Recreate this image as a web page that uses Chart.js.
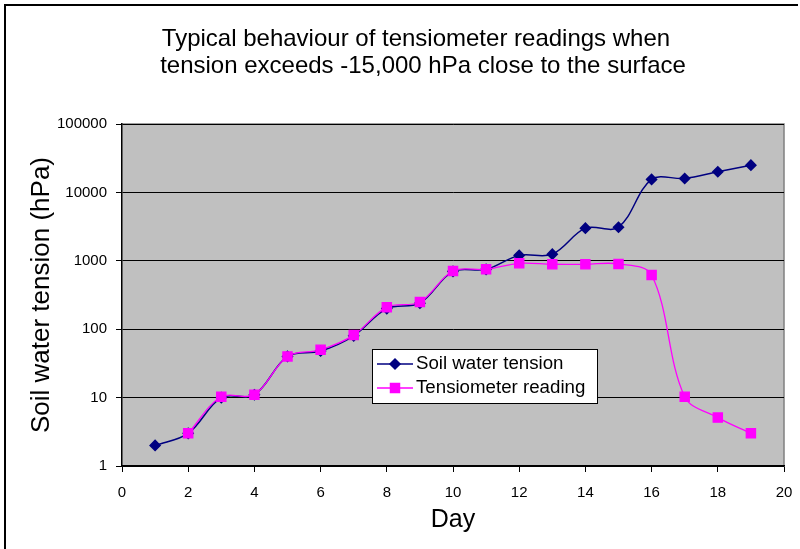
<html><head>
<meta charset="UTF-8">
<title>Tensiometer readings</title>
<script src="https://cdn.jsdelivr.net/npm/chart.js"></script>
<style>
body {
  margin: 0;
  background: #ffffff;
}
#wrap {
  position: relative;
  width: 800px;
  height: 549px;
}
</style>
</head>
<body>

<div id="wrap">
  <canvas id="chart"></canvas>
</div>

<script>
const titleLines = [
  "Typical behaviour of tensiometer readings when",
  "tension exceeds -15,000 hPa close to the surface"
];

const soilDays = [1, 2, 3, 4, 5, 6, 7, 8, 9, 10, 11, 12, 13, 14, 15, 16, 17, 18, 19];
const soilTension = [2, 3, 10, 11, 40, 48, 80, 200, 240, 700, 750, 1200, 1250, 3000, 3100, 15500, 16000, 20000, 25000];

const tensioDays = [2, 3, 4, 5, 6, 7, 8, 9, 10, 11, 12, 13, 14, 15, 16, 17, 18, 19];
const tensioReading = [3, 10.3, 11, 40, 50, 82, 210, 250, 710, 750, 920, 890, 890, 900, 620, 10.3, 5.1, 3];

const yTicks = [1, 10, 100, 1000, 10000, 100000];

const FONT = "'Liberation Sans', Arial, sans-serif";

const toPoints = (xs, ys) => xs.map((x, i) => ({ x: x, y: ys[i] }));

// grey plot background, frame, title and legend
const decorations = {
  id: 'decorations',
  beforeDraw(chart) {
    const { ctx, chartArea: a } = chart;
    ctx.save();
    ctx.fillStyle = '#c0c0c0';
    ctx.fillRect(a.left, a.top, a.right - a.left, a.bottom - a.top);
    ctx.strokeStyle = '#808080';
    ctx.lineWidth = 1.5;
    ctx.beginPath();
    ctx.moveTo(a.left, a.top);
    ctx.lineTo(a.right, a.top);
    ctx.lineTo(a.right, a.bottom);
    ctx.stroke();
    ctx.restore();
  },
  afterDraw(chart) {
    const { ctx } = chart;
    ctx.save();
    // outer frame (only top and left visible in the crop)
    ctx.strokeStyle = '#000';
    ctx.lineWidth = 2;
    ctx.beginPath();
    ctx.moveTo(5, 549);
    ctx.lineTo(5, 5);
    ctx.lineTo(798, 5);
    ctx.stroke();

    // title
    ctx.fillStyle = '#000';
    ctx.font = '24px ' + FONT;
    ctx.textAlign = 'center';
    ctx.textBaseline = 'middle';
    ctx.fillText(titleLines[0], 416, 39);
    ctx.fillText(titleLines[1], 423, 66);

    // legend
    const box = { x: 372, y: 349, w: 225, h: 54 };
    ctx.fillStyle = '#fff';
    ctx.fillRect(box.x, box.y, box.w, box.h);
    ctx.strokeStyle = '#000';
    ctx.lineWidth = 1;
    ctx.strokeRect(box.x + 0.5, box.y + 0.5, box.w, box.h);
    const rows = [364, 388];
    chart.data.datasets.forEach((ds, i) => {
      const y = rows[i];
      ctx.strokeStyle = ds.borderColor;
      ctx.lineWidth = ds.borderWidth;
      ctx.beginPath();
      ctx.moveTo(377, y);
      ctx.lineTo(413, y);
      ctx.stroke();
      Chart.helpers.drawPoint(ctx, {
        pointStyle: ds.pointStyle,
        radius: ds.pointRadius,
        borderWidth: 1
      }, 395, y);
      ctx.fillStyle = ds.pointBackgroundColor;
      ctx.fill();
      ctx.fillStyle = '#000';
      ctx.font = '18.7px ' + FONT;
      ctx.textAlign = 'left';
      ctx.textBaseline = 'middle';
      ctx.fillText(ds.label, 416, y);
    });
    ctx.restore();
  }
};

new Chart(document.getElementById('chart'), {
  type: 'line',
  data: {
    datasets: [
      {
        label: 'Soil water tension',
        data: toPoints(soilDays, soilTension),
        borderColor: '#000080',
        backgroundColor: '#000080',
        pointBackgroundColor: '#000080',
        pointBorderColor: '#000080',
        borderWidth: 1.5,
        pointStyle: 'rectRot',
        pointRadius: 5,
        tension: 0.35,
        order: 1
      },
      {
        label: 'Tensiometer reading',
        data: toPoints(tensioDays, tensioReading),
        borderColor: '#ff00ff',
        backgroundColor: '#ff00ff',
        pointBackgroundColor: '#ff00ff',
        pointBorderColor: '#ff00ff',
        borderWidth: 1.3,
        pointStyle: 'rect',
        pointRadius: 6.5,
        tension: 0.35,
        order: 0
      }
    ]
  },
  options: {
    responsive: true,
    maintainAspectRatio: false,
    animation: false,
    layout: { padding: { left: 0, top: 124, right: 16, bottom: 0 } },
    plugins: {
      legend: { display: false },
      title: { display: false },
      tooltip: { enabled: false }
    },
    scales: {
      x: {
        type: 'linear',
        min: 0,
        max: 20,
        ticks: {
          stepSize: 2,
          color: '#000',
          font: { family: FONT, size: 15 },
          padding: 12
        },
        grid: {
          drawOnChartArea: false,
          drawTicks: true,
          tickLength: 6,
          color: '#000'
        },
        border: { color: '#000', width: 1.5 },
        title: {
          display: true,
          text: 'Day',
          color: '#000',
          font: { family: FONT, size: 25 },
          padding: { top: 0, bottom: 14 }
        },
        afterFit: (s) => { s.height = 83; s.paddingRight = 0; s.paddingLeft = 0; }
      },
      y: {
        type: 'logarithmic',
        min: 1,
        max: 100000,
        afterBuildTicks: (s) => { s.ticks = yTicks.map(v => ({ value: v })); },
        ticks: {
          color: '#000',
          font: { family: FONT, size: 15 },
          padding: 9,
          callback: (v) => String(v)
        },
        grid: {
          color: '#000',
          lineWidth: 1,
          drawTicks: true,
          tickLength: 6
        },
        border: { color: '#000', width: 1.5 },
        title: {
          display: true,
          text: 'Soil water tension (hPa)',
          color: '#000',
          font: { family: FONT, size: 26 },
          padding: { top: 26, bottom: 0 }
        },
        afterFit: (s) => { s.width = 122; }
      }
    }
  },
  plugins: [decorations]
});
</script>

</body></html>
